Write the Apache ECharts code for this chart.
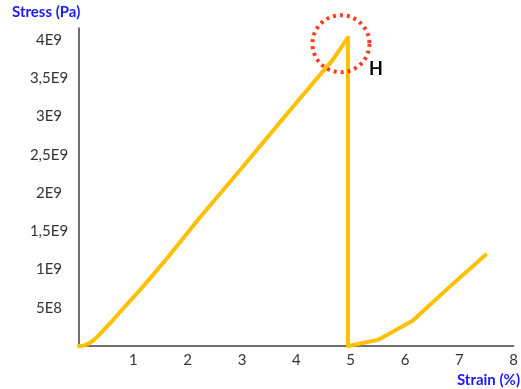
<!DOCTYPE html>
<html>
<head>
<meta charset="utf-8">
<script src="https://cdn.jsdelivr.net/npm/echarts@6/dist/echarts.min.js"></script>
<style>
    html, body { margin: 0; padding: 0; background: #fff; }
    #chart { width: 521px; height: 389px; }
</style>
</head>
<body>
<div id="chart"></div>
<script>
// strain (%) and stress (E9 Pa)
var strain = [0, 0.08, 0.16, 0.25, 0.35, 0.47, 0.6, 0.8, 1.07, 1.35, 1.67, 2.19, 3, 4, 4.67, 4.95, 4.95, 5.5, 6.14, 6.8, 7.48];
var stress = [0, 0.005, 0.025, 0.065, 0.13, 0.22, 0.32, 0.48, 0.69, 0.92, 1.19, 1.65, 2.33, 3.18, 3.74, 4.03, 0, 0.08, 0.33, 0.76, 1.19];

var xLabels = ['', '1', '2', '3', '4', '5', '6', '7', '8'];
var yLabels = ['', '5E8', '1E9', '1,5E9', '2E9', '2,5E9', '3E9', '3,5E9', '4E9'];

var peakIndex = 15; // point H

var points = [];
for (var i = 0; i < strain.length; i++) {
    points.push([strain[i], stress[i] * 1e9]);
}

var myChart = echarts.init(document.getElementById('chart'));

var option = {
    animation: false,
    title: [
        {
            text: 'Stress (Pa)', left: 12, top: 5, padding: 0,
            textStyle: { fontFamily: 'Lato', fontSize: 15, fontWeight: 'bold', color: '#1a1aff' }
        },
        {
            text: 'Strain (%)', right: 1, top: 373, padding: 0,
            textStyle: { fontFamily: 'Lato', fontSize: 15, fontWeight: 'bold', color: '#1a1aff' }
        }
    ],
    grid: { left: 79, top: 28, right: 7, bottom: 43 },
    xAxis: {
        type: 'value',
        min: 0,
        max: 8,
        interval: 1,
        axisLine: { lineStyle: { color: '#404040', width: 1.5 } },
        axisTick: { show: false },
        splitLine: { show: false },
        axisLabel: {
            margin: 7,
            fontFamily: 'Lato',
            fontSize: 15,
            color: '#333',
            formatter: function (v) {
                return Number.isInteger(v) ? (xLabels[v] || '') : '';
            }
        }
    },
    yAxis: {
        type: 'value',
        min: 0,
        max: 4.157e9,
        interval: 5e8,
        axisLine: { show: true, lineStyle: { color: '#404040', width: 1.5 } },
        axisTick: { show: false },
        splitLine: { show: false },
        axisLabel: {
            margin: 30,
            align: 'center',
            fontFamily: 'Lato',
            fontSize: 15,
            color: '#333',
            formatter: function (v) {
                var k = Math.round(v / 5e8);
                return Math.abs(k * 5e8 - v) < 1 ? (yLabels[k] || '') : '';
            }
        }
    },
    series: [
        {
            type: 'line',
            data: points,
            symbol: 'none',
            lineStyle: { color: '#ffc000', width: 4, join: 'round', cap: 'round' },
            markPoint: {
                symbol: 'circle',
                symbolSize: 57,
                symbolOffset: [-7, 6],
                itemStyle: {
                    color: 'rgba(0,0,0,0)',
                    borderColor: '#ff3b1f',
                    borderWidth: 4,
                    borderType: [3, 4]
                },
                label: {
                    show: true,
                    formatter: 'H',
                    position: 'inside',
                    offset: [35, 25],
                    fontFamily: 'Lato',
                    fontSize: 18,
                    fontWeight: 'bold',
                    color: '#000'
                },
                data: [{ coord: points[peakIndex] }]
            }
        }
    ]
};

myChart.setOption(option);
</script>
</body>
</html>
